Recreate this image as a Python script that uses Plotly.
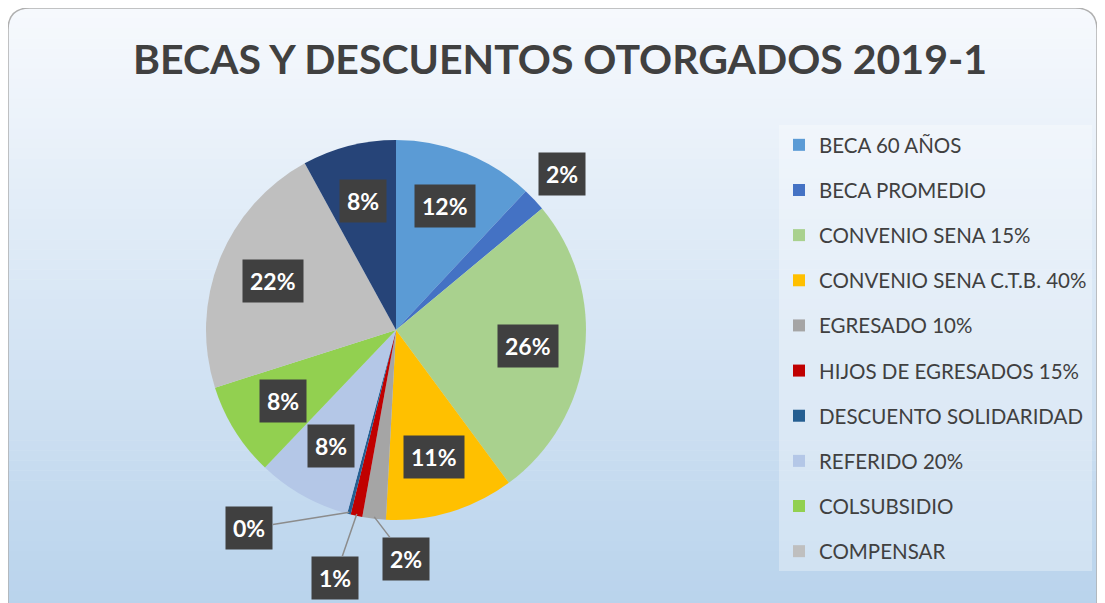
import math
import plotly.graph_objects as go

# ---------------- data ----------------
labels = ["BECA 60 AÑOS", "BECA PROMEDIO", "CONVENIO SENA 15%", "CONVENIO SENA C.T.B. 40%",
          "EGRESADO 10%", "HIJOS DE EGRESADOS 15%", "DESCUENTO SOLIDARIDAD", "REFERIDO 20%",
          "COLSUBSIDIO", "COMPENSAR", "OTROS"]
values = [12, 2, 26, 11, 2, 1, 0.3, 8, 8, 22, 8]
colors = ["#5B9BD5", "#4472C4", "#A9D18E", "#FFC000", "#A5A5A5", "#C00000", "#255E91",
          "#B4C7E7", "#92D050", "#BFBFBF", "#264478"]
legend_labels = labels[:10]
title_text = "BECAS Y DESCUENTOS OTORGADOS 2019-1"

# ---------------- layout constants ----------------
W, H = 1105, 603
OFF = 8  # page body margin
cx, cy, R = 396, 330, 190
FONT = "Lato"

def px(x):
    return (x - OFF) / W

def py(y):
    return 1 - (y - OFF) / H

fig = go.Figure()

fig.add_trace(go.Pie(
    labels=labels, values=values, sort=False, direction="clockwise", rotation=0,
    marker=dict(colors=colors, line=dict(width=0)),
    textinfo="none", showlegend=False, hoverinfo="label+percent",
    domain=dict(x=[px(cx - R), px(cx + R)], y=[py(cy + R), py(cy - R)]),
))

# legend entries (dummy traces so the legend lists the visible categories)
for i, lab in enumerate(legend_labels):
    fig.add_trace(go.Scatter(
        x=[None], y=[None], mode="markers", name=lab, legendgroup=f"g{i}",
        marker=dict(symbol="square", size=14, color=colors[i]), showlegend=True,
    ))

# ---------------- data labels ----------------
total = sum(values)
outside = {
    "BECA PROMEDIO": dict(f=1.2, arrow=False),
    "EGRESADO 10%": dict(arrow=True, ax=32, ay=42),
    "HIJOS DE EGRESADOS 15%": dict(arrow=True, ax=-22, ay=64),
    "DESCUENTO SOLIDARIDAD": dict(arrow=True, ax=-100, ay=16),
}
annotations = []
cum = 0.0
for lab, v in zip(labels, values):
    mid = (cum + v / 2) / total * 2 * math.pi
    cum += v
    txt = f"{round(v / total * 100)}%"
    box = dict(text=f"<b>{txt}</b>", font=dict(family=FONT, size=23, color="white"),
               bgcolor="#404040", borderpad=7, xref="paper", yref="paper",
               xanchor="center", yanchor="middle")
    o = outside.get(lab)
    if o is None:
        f = 0.7
        x = cx + R * f * math.sin(mid)
        y = cy - R * f * math.cos(mid)
        annotations.append(dict(x=px(x), y=py(y), showarrow=False, **box))
    elif not o["arrow"]:
        f = o["f"]
        x = cx + R * f * math.sin(mid)
        y = cy - R * f * math.cos(mid)
        annotations.append(dict(x=px(x), y=py(y), showarrow=False, **box))
    else:
        x = cx + R * 0.99 * math.sin(mid)
        y = cy - R * 0.99 * math.cos(mid)
        annotations.append(dict(x=px(x), y=py(y), showarrow=True, arrowhead=0,
                                arrowwidth=1.5, arrowcolor="#8C8C8C", ax=o["ax"], ay=o["ay"],
                                standoff=0, **box))

# ---------------- background gradient ----------------
shapes = []
N = 60
top_c = (246, 249, 253)
bot_c = (185, 211, 236)
y0, y1 = 8, H + OFF
for k in range(N):
    t = k / (N - 1)
    c = tuple(int(round(top_c[j] + (bot_c[j] - top_c[j]) * t)) for j in range(3))
    ya = y0 + (y1 - y0) * k / N
    yb = y0 + (y1 - y0) * (k + 1) / N + 0.5
    shapes.append(dict(type="rect", xref="paper", yref="paper", layer="below",
                       x0=px(8), x1=px(1097), y0=py(yb), y1=py(ya),
                       line=dict(width=0), fillcolor=f"rgb{c}"))
# white corner masks + rounded border
r = 22
for (xa, sgn) in [(8, 1), (1097, -1)]:
    shapes.append(dict(type="path", xref="paper", yref="paper", layer="below",
                       path=(f"M {px(xa)} {py(8)} L {px(xa + sgn * r)} {py(8)} "
                             f"Q {px(xa)} {py(8)} {px(xa)} {py(8 + r)} Z"),
                       fillcolor="white", line=dict(width=0)))
shapes.append(dict(type="path", xref="paper", yref="paper", layer="above",
                   path=(f"M {px(8)} {py(620)} L {px(8)} {py(8 + r)} "
                         f"Q {px(8)} {py(8)} {px(8 + r)} {py(8)} "
                         f"L {px(1097 - r)} {py(8)} Q {px(1097)} {py(8)} {px(1097)} {py(8 + r)} "
                         f"L {px(1097)} {py(620)}"),
                   line=dict(color="#B0B0B0", width=1.5)))

fig.update_layout(
    width=W, height=H,
    margin=dict(l=0, r=0, t=0, b=0),
    paper_bgcolor="white", plot_bgcolor="rgba(0,0,0,0)",
    title=dict(text=f"<b>{title_text}</b>", x=px(560), xanchor="center", y=py(60), yanchor="middle",
               font=dict(family=FONT, size=41, color="#404040")),
    xaxis=dict(visible=False), yaxis=dict(visible=False),
    legend=dict(x=px(779), y=py(125), xanchor="left", yanchor="top",
                bgcolor="rgba(255,255,255,0.3)", borderwidth=0,
                font=dict(family=FONT, size=20.5, color="#404040"),
                tracegroupgap=15.5, itemsizing="constant"),
    shapes=shapes, annotations=annotations,
)

fig.write_html("out.html")
